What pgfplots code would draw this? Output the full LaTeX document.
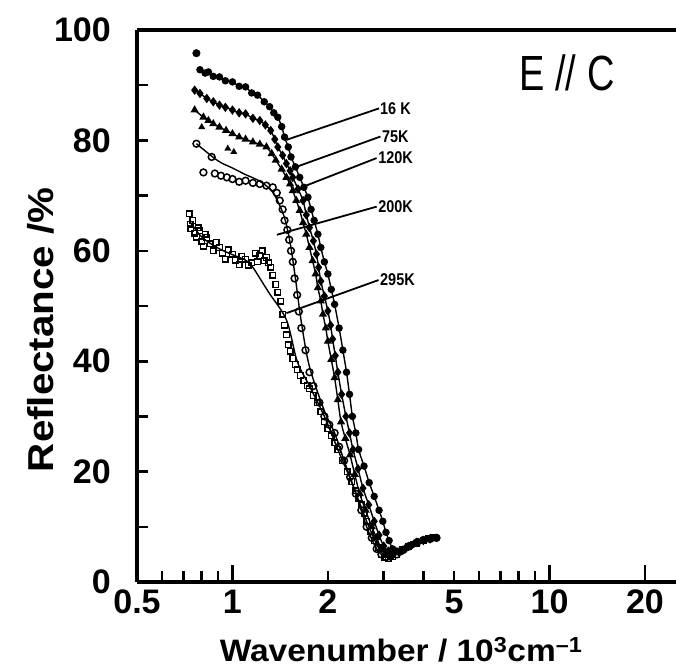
\documentclass[border=0pt]{standalone}
\usepackage{fontspec}
\setmainfont{Liberation Sans}
\usepackage{pgfplots}
\pgfplotsset{compat=1.18}
\usepackage{pgfplotstable}

\pgfplotstableread{
x y
0.79 92.8
0.82 92.2
0.84 92.4
0.87 91.6
0.91 91.5
0.95 90.8
1.00 90.6
1.05 89.8
1.10 89.7
1.15 88.6
1.20 88.2
1.26 87.0
1.31 86.1
1.35 85.0
1.39 84.2
1.43 82.5
1.46 80.6
1.50 78.8
1.53 77.0
1.58 75.2
1.63 73.3
1.68 71.5
1.73 69.7
1.77 67.5
1.81 65.5
1.86 63.0
1.90 60.6
1.95 58.0
2.00 55.8
2.05 53.0
2.10 50.3
2.17 46.0
2.23 42.0
2.29 38.0
2.34 34.0
2.39 30.0
2.45 27.0
2.50 24.0
2.60 21.0
2.70 18.0
2.80 15.5
2.90 13.0
2.98 11.0
3.05 9.0
3.12 7.5
3.20 6.0
3.30 5.6
3.40 5.5
3.55 6.2
3.70 6.8
3.85 7.3
4.00 7.6
4.20 7.9
4.40 8.0
}\sixteen

\pgfplotstableread{
x y
0.76 89.1
0.79 88.5
0.83 87.6
0.87 87.0
0.91 86.4
0.95 86.0
1.00 85.5
1.05 85.0
1.10 84.8
1.16 84.0
1.22 83.6
1.27 82.8
1.32 81.8
1.36 80.2
1.39 78.8
1.44 77.3
1.48 75.8
1.52 74.5
1.55 73.3
1.61 71.2
1.67 69.1
1.71 66.5
1.75 64.2
1.80 61.8
1.84 59.4
1.87 57.0
1.90 54.5
1.95 51.8
2.00 49.1
2.04 46.5
2.07 44.0
2.11 41.0
2.15 38.0
2.21 34.0
2.28 30.0
2.34 27.0
2.40 24.0
2.49 20.5
2.58 17.0
2.69 14.0
2.80 11.0
2.90 8.5
3.00 6.5
3.10 5.6
3.20 5.0
3.35 5.4
3.50 6.0
3.65 6.6
3.80 7.2
4.00 7.5
4.20 7.8
}\seventyfive

\pgfplotstableread{
x y
0.76 85.5
0.81 84.2
0.84 83.6
0.87 83.0
0.91 82.4
0.955 81.8
1.00 81.2
1.05 80.6
1.10 80.2
1.16 79.7
1.22 79.3
1.28 78.8
1.33 77.6
1.37 76.4
1.43 74.8
1.48 73.3
1.52 72.1
1.55 70.9
1.59 69.1
1.63 67.3
1.67 65.1
1.71 63.0
1.75 60.6
1.79 58.2
1.83 55.8
1.86 53.3
1.90 50.9
1.93 48.5
1.97 46.0
2.00 43.6
2.05 40.3
2.10 37.0
2.15 33.0
2.20 29.0
2.27 26.0
2.35 23.0
2.43 19.5
2.52 16.0
2.63 13.0
2.75 10.0
2.85 8.0
2.95 6.0
3.05 5.2
3.15 4.8
3.30 5.3
3.45 5.8
3.60 6.4
3.80 7.0
4.00 7.5
4.20 7.8
}\onetwenty

\pgfplotstableread{
x y
0.77 79.4
0.81 74.2
0.86 77.0
0.88 74.0
0.92 73.6
0.96 73.3
1.00 73.0
1.05 72.5
1.10 72.7
1.16 72.3
1.22 72.1
1.28 71.8
1.34 71.5
1.38 70.5
1.41 69.1
1.44 67.5
1.46 65.5
1.49 63.8
1.51 62.0
1.53 60.0
1.55 58.0
1.57 55.0
1.60 52.0
1.62 49.0
1.65 46.0
1.70 42.0
1.75 38.0
1.80 35.5
1.88 32.5
1.95 30.0
2.02 28.5
2.10 27.0
2.17 24.5
2.25 22.0
2.35 19.0
2.45 16.0
2.55 13.0
2.65 10.0
2.75 8.0
2.85 6.0
2.95 5.0
3.05 4.5
3.15 4.6
3.30 5.0
3.45 5.8
3.60 6.5
3.80 7.1
4.00 7.6
4.20 7.8
4.40 8.0
}\twohundred

\pgfplotstableread{
x y
0.77 79.4
0.90 76.3
1.00 75.0
1.10 73.8
1.22 72.6
1.34 70.6
1.45 66.5
1.52 61.5
1.58 55.0
1.65 47.0
1.75 39.0
1.95 31.0
2.10 27.0
2.25 22.0
2.45 16.0
2.65 10.0
2.85 6.0
3.05 4.5
3.30 5.0
3.60 6.5
4.00 7.6
4.40 8.0
}\twohundredline

\pgfplotstableread{
x y
0.73 66.7
0.735 64.8
0.74 64.0
0.75 65.5
0.76 63.2
0.77 62.5
0.78 64.2
0.79 63.6
0.80 61.6
0.81 60.8
0.82 63.0
0.83 62.4
0.85 61.3
0.87 60.0
0.89 61.5
0.91 60.6
0.93 59.6
0.95 58.5
0.97 60.2
1.00 59.4
1.02 58.3
1.05 57.5
1.07 59.0
1.10 58.5
1.12 57.4
1.15 57.8
1.18 59.6
1.20 58.0
1.22 59.1
1.24 60.0
1.26 58.2
1.28 58.8
1.30 57.8
1.32 57.0
1.34 55.6
1.37 53.9
1.39 52.5
1.42 50.9
1.44 48.5
1.46 46.5
1.48 44.8
1.50 43.0
1.52 41.8
1.55 40.5
1.58 39.4
1.60 38.5
1.64 37.4
1.68 36.5
1.72 35.6
1.75 35.0
1.80 33.8
1.85 32.5
1.90 30.8
1.95 29.0
2.00 27.8
2.05 26.5
2.10 25.2
2.15 24.0
2.22 22.0
2.30 20.0
2.38 18.2
2.45 16.5
2.50 15.2
2.55 14.0
2.60 12.5
2.65 11.0
2.72 9.2
2.80 7.5
2.88 6.2
2.95 5.0
3.02 4.5
3.10 4.2
3.20 4.6
3.30 5.0
3.45 5.8
3.60 6.5
3.80 7.0
4.00 7.5
4.15 7.8
4.30 8.0
}\twoninetyfive

\pgfplotstableread{
x y
0.73 65.5
0.80 62.5
0.90 60.5
1.00 59.3
1.10 58.3
1.16 57.0
1.30 52.5
1.48 47.5
1.60 40.0
1.75 35.5
1.95 30.0
2.15 24.0
2.40 17.5
2.65 11.0
2.90 6.0
3.10 4.5
3.40 5.5
3.80 7.0
4.30 8.0
}\twoninetyfiveline

\newcommand{\tl}{\fontsize{34}{34}\selectfont\bfseries}
\newcommand{\cl}[1]{\scalebox{0.85}[1]{\fontsize{17}{17}\selectfont\bfseries #1}}

\begin{document}
\begin{tikzpicture}[x=1pt,y=1pt]
\path[use as bounding box] (-137,-88) rectangle (539,582);
\begin{axis}[
  at={(0,0)}, anchor=south west,
  scale only axis, width=539pt, height=552pt,
  xmode=log, xmin=0.5, xmax=25.06, ymin=0, ymax=100,
  axis x line*=bottom, axis y line*=left,
  axis line style={line width=3.2pt},
  tick align=inside,
  tick style={line width=2.6pt, black},
  major tick length=11pt, minor tick length=11pt,
  xtick={0.5,1,2,5,10,20}, xticklabels={0.5,1,2,5,10,20},
  minor xtick={0.6,0.7,0.8,0.9,3,4,6,7,8,9},
  extra x ticks={1,10,20}, extra x tick labels={},
  extra x tick style={major tick length=17pt},
  ytick={0,20,40,60,80,100}, yticklabels={0,20,40,60,80,100},
  minor ytick={10,30,50,70,90},
  ticklabel style={font=\tl, inner sep=0pt},
  xticklabel style={anchor=north, yshift=-8pt},
  yticklabel style={anchor=east, xshift=-26pt},
  xlabel={\scalebox{1.08}[1]{Wavenumber / 10\textsuperscript{3}cm\textsuperscript{\textendash1}}},
  ylabel={\scalebox{1.12}[1]{Reflectance /\%}},
  xlabel style={font=\fontsize{31}{31}\selectfont\bfseries, at={(axis description cs:0.49,-0.123)}, anchor=center},
  ylabel style={font=\fontsize{36}{36}\selectfont\bfseries, at={(axis description cs:-0.178,0.457)}, anchor=center},
  clip=false,
]
\draw[line width=3.2pt] (rel axis cs:0,1) -- (rel axis cs:1,1);

% 295 K
\addplot[only marks, mark=square, mark size=2.8pt, line width=1.4pt] table {\twoninetyfive};
\addplot[smooth, line width=1.4pt, no marks] table {\twoninetyfiveline};
% 200 K
\addplot[only marks, mark=o, mark size=3.4pt, line width=1.5pt] table {\twohundred};
\addplot[smooth, line width=1.4pt, no marks] table {\twohundredline};
% 120 K
\addplot[smooth, line width=1.4pt, mark=triangle*, mark size=3.4pt] table {\onetwenty};
\addplot[only marks, mark=triangle*, mark size=3.6pt] coordinates {(0.80,82.4) (0.967,78.5) (1.01,77.9)};
% 75 K
\addplot[smooth, line width=1.4pt, mark=diamond*, mark size=3.6pt] table {\seventyfive};
% 16 K
\addplot[smooth, line width=1.4pt, mark=*, mark size=3pt] table {\sixteen};
\addplot[only marks, mark=*, mark size=3.8pt] coordinates {(0.77,95.8)};

% labels with leader lines
\draw[line width=1.8pt] (axis cs:2.90,85.8) -- (axis cs:1.48,80.1);
\node[anchor=west, inner sep=0pt] at (axis cs:2.92,85.8) {\cl{16 K}};
\draw[line width=1.8pt] (axis cs:2.93,80.7) -- (axis cs:1.59,75.2);
\node[anchor=west, inner sep=0pt] at (axis cs:2.96,80.7) {\cl{75K}};
\draw[line width=1.8pt] (axis cs:2.85,76.8) -- (axis cs:1.67,71.6);
\node[anchor=west, inner sep=0pt] at (axis cs:2.88,76.8) {\cl{120K}};
\draw[line width=1.8pt] (axis cs:2.85,68.0) -- (axis cs:1.38,62.9);
\node[anchor=west, inner sep=0pt] at (axis cs:2.88,68.0) {\cl{200K}};
\draw[line width=1.8pt] (axis cs:2.89,54.7) -- (axis cs:1.48,48.7);
\node[anchor=west, inner sep=0pt] at (axis cs:2.92,54.7) {\cl{295K}};

\node at (axis cs:11.36,92.2) {\scalebox{1}[1.3]{\fontsize{38}{38}\selectfont E // C}};
\end{axis}
\end{tikzpicture}
\end{document}
